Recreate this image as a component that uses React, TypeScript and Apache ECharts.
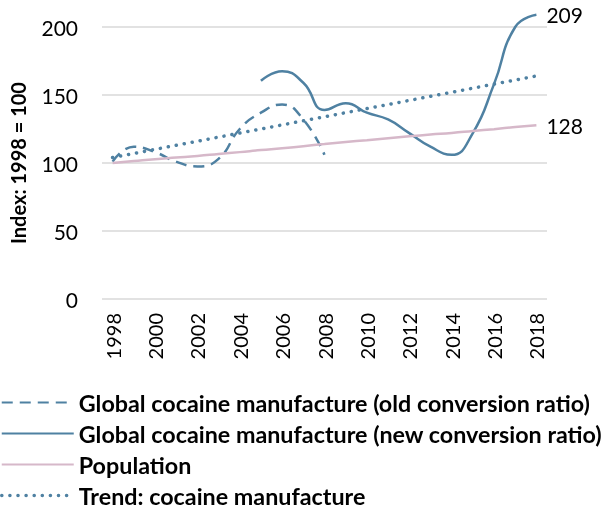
import React, { useEffect, useRef } from "react";
import * as echarts from "echarts";

const years = ["1998","1999","2000","2001","2002","2003","2004","2005","2006","2007","2008","2009","2010","2011","2012","2013","2014","2015","2016","2017","2018"];
const oldRatio = [101, 112, 108, 101, 97.5, 103, 125, 137, 143, 132, 106, null, null, null, null, null, null, null, null, null, null];
const newRatio = [null, null, null, null, null, null, null, 160.5, 167.5, 159, 139, 144, 137, 132, 122, 112, 106, 122, 158, 200, 209];
const population = [100, 101.4, 102.8, 104, 105.2, 106.6, 108, 109.5, 110.8, 112.4, 113.9, 115.4, 116.8, 118.2, 119.6, 120.9, 122.1, 123.5, 124.9, 126.4, 127.8];
const trend = [104, 107, 110, 113, 116, 119, 122, 125, 128, 131, 134, 137, 140, 143, 146, 149, 152, 155, 158, 161, 164];
const seriesNames = [
  "Global cocaine manufacture (old conversion ratio)",
  "Global cocaine manufacture (new conversion ratio)",
  "Population",
  "Trend: cocaine manufacture",
];
const endLabels = ["209", "128"];

const FONT = "Lato, 'Open Sans', sans-serif";
const BLUE = "#4f81a2";
const PINK = "#d6b8c9";

export default function App() {
  const ref = useRef<HTMLDivElement>(null);
  useEffect(() => {
    if (!ref.current) return;
    const chart = echarts.init(ref.current, null, { renderer: "svg" });
    chart.setOption({
      animation: false,
      textStyle: { fontFamily: FONT },
      grid: { left: 102, right: 58, top: 27, bottom: 213, containLabel: false },
      legend: {
        orient: "vertical",
        left: 0,
        top: 391,
        padding: 0,
        height: 125,
        itemWidth: 72,
        itemHeight: 14,
        itemGap: 8,
        itemStyle: { opacity: 0 },
        textStyle: { fontFamily: FONT, fontSize: 23.3, fontWeight: "bold", color: "#000" },
        data: [
          seriesNames[0],
          seriesNames[1],
          seriesNames[2],
          { name: seriesNames[3], lineStyle: { color: BLUE, width: 3.5, type: [0.1, 8], cap: "round" } },
        ],
      },
      xAxis: {
        type: "category",
        data: years,
        boundaryGap: true,
        axisLine: { show: false },
        axisTick: { show: false },
        axisLabel: { rotate: 90, interval: 1, fontSize: 20, color: "#000", margin: 14, fontFamily: FONT },
      },
      yAxis: {
        type: "value",
        min: 0,
        max: 200,
        interval: 50,
        name: "Index: 1998 = 100",
        nameLocation: "middle",
        nameGap: 74,
        nameTextStyle: { fontSize: 20, fontWeight: "bold", color: "#000", fontFamily: FONT },
        axisLabel: { fontSize: 21, color: "#000", margin: 24, fontFamily: FONT },
        splitLine: { lineStyle: { color: "#d9d9d9", width: 1.5 } },
        axisLine: { show: false },
        axisTick: { show: false },
      },
      series: [
        {
          name: seriesNames[0],
          type: "line",
          data: oldRatio,
          smooth: 0.5,
          symbol: "none",
          color: BLUE,
          lineStyle: { color: BLUE, width: 2.5, type: [11, 7] },
          clip: false,
        },
        {
          name: seriesNames[1],
          type: "line",
          data: newRatio,
          smooth: 0.5,
          symbol: "none",
          color: BLUE,
          lineStyle: { color: BLUE, width: 2.5 },
          clip: false,
          endLabel: { show: true, formatter: () => endLabels[0], fontSize: 21, color: "#000", distance: 10, fontFamily: FONT },
        },
        {
          name: seriesNames[2],
          type: "line",
          data: population,
          smooth: 0.5,
          symbol: "none",
          color: PINK,
          lineStyle: { color: PINK, width: 2.5 },
          endLabel: { show: true, formatter: () => endLabels[1], fontSize: 21, color: "#000", distance: 10, fontFamily: FONT },
        },
        {
          name: seriesNames[3],
          type: "line",
          data: trend,
          symbol: "none",
          color: BLUE,
          lineStyle: { color: BLUE, width: 3.5, type: [0.1, 8], cap: "round" },
        },
      ],
    });
    return () => chart.dispose();
  }, []);
  return <div ref={ref} style={{ position: "fixed", left: 0, top: 0, width: 605, height: 512 }} />;
}
